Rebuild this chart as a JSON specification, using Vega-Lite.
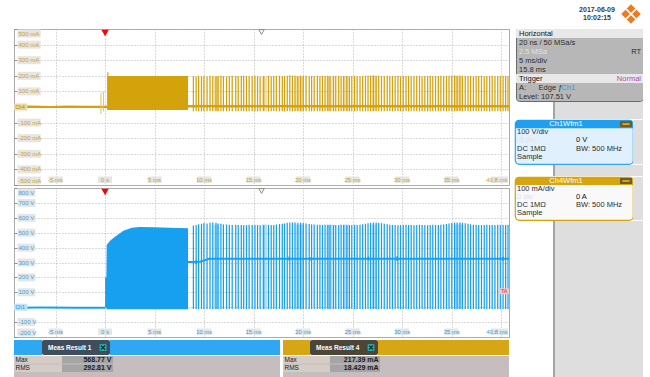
{
"$schema": "https://vega.github.io/schema/vega-lite/v6.json",
"background": "#ffffff",
"padding": {"left": 13, "top": 0, "right": 0, "bottom": 0},
"config": {
  "font": "Liberation Sans",
  "view": {"stroke": null},
  "concat": {"spacing": 0},
  "axis": {"title": null, "labels": false, "domain": false, "ticks": false, "grid": true, "gridDash": [1, 2], "gridColor": "#b5b5b5", "gridWidth": 1, "tickCount": 10},
  "axisY": {"ticks": true, "tickSize": -3, "tickColor": "#8c8c8c"}
},
"datasets": {
  "haze": [{"t0":11.0,"t1":11.5},{"t0":15.85,"t1":16.35},{"t0":19.2,"t1":20.05},{"t0":22.35,"t1":23.0},{"t0":24.0,"t1":24.6},{"t0":26.95,"t1":27.45},{"t0":35.25,"t1":36.15}],
  "bursts": [
    {"t":8.92,"i":198,"v":548},{"t":9.2,"i":196,"v":552},{"t":9.45,"i":200,"v":556},{"t":9.74,"i":197,"v":560},{"t":9.98,"i":199,"v":565},{"t":10.3,"i":196,"v":562},{"t":10.6,"i":200,"v":566},{"t":10.88,"i":198,"v":568},{"t":11.2,"i":197,"v":566},{"t":11.41,"i":199,"v":562},{"t":11.7,"i":201,"v":560},{"t":11.95,"i":198,"v":556},{"t":12.27,"i":196,"v":555},{"t":12.55,"i":199,"v":553},{"t":12.84,"i":200,"v":552},{"t":13.2,"i":198,"v":553},{"t":13.45,"i":197,"v":551},{"t":13.76,"i":199,"v":552},{"t":14.0,"i":200,"v":550},{"t":14.28,"i":198,"v":551},{"t":14.55,"i":197,"v":553},{"t":14.86,"i":199,"v":552},
    {"t":15.14,"i":201,"v":551},{"t":15.4,"i":198,"v":552},{"t":15.66,"i":196,"v":550},{"t":16.02,"i":199,"v":552},{"t":16.5,"i":200,"v":553},{"t":16.78,"i":197,"v":551},{"t":17.04,"i":199,"v":552},{"t":17.3,"i":198,"v":555},{"t":17.62,"i":200,"v":558},{"t":17.9,"i":197,"v":560},{"t":18.12,"i":199,"v":562},{"t":18.4,"i":201,"v":566},{"t":18.66,"i":203,"v":569},{"t":18.92,"i":200,"v":568},{"t":19.18,"i":202,"v":569},{"t":19.47,"i":199,"v":567},{"t":19.75,"i":201,"v":568},{"t":20.02,"i":198,"v":565},{"t":20.3,"i":200,"v":562},
    {"t":20.62,"i":197,"v":558},{"t":20.86,"i":199,"v":556},{"t":21.12,"i":198,"v":555},{"t":21.44,"i":200,"v":554},{"t":21.7,"i":197,"v":553},{"t":21.95,"i":199,"v":552},{"t":22.22,"i":198,"v":553},{"t":22.5,"i":200,"v":552},{"t":22.72,"i":197,"v":551},{"t":23.08,"i":199,"v":552},{"t":23.3,"i":198,"v":551},{"t":23.6,"i":200,"v":552},{"t":23.84,"i":197,"v":553},{"t":24.1,"i":199,"v":552},{"t":24.42,"i":198,"v":550},{"t":24.68,"i":196,"v":551},{"t":24.92,"i":199,"v":552},
    {"t":25.2,"i":200,"v":553},{"t":25.46,"i":198,"v":552},{"t":25.75,"i":197,"v":554},{"t":26.02,"i":199,"v":556},{"t":26.3,"i":200,"v":560},{"t":26.56,"i":202,"v":564},{"t":26.82,"i":201,"v":566},{"t":27.1,"i":203,"v":569},{"t":27.38,"i":200,"v":568},{"t":27.64,"i":202,"v":567},{"t":27.92,"i":199,"v":564},{"t":28.2,"i":198,"v":560},{"t":28.5,"i":200,"v":556},{"t":28.76,"i":197,"v":554},{"t":29.02,"i":199,"v":552},{"t":29.3,"i":198,"v":551},{"t":29.58,"i":200,"v":550},{"t":29.84,"i":197,"v":551},
    {"t":30.12,"i":199,"v":552},{"t":30.4,"i":198,"v":553},{"t":30.66,"i":200,"v":552},{"t":30.92,"i":197,"v":551},{"t":31.2,"i":199,"v":550},{"t":31.48,"i":198,"v":552},{"t":31.76,"i":200,"v":553},{"t":32.02,"i":196,"v":552},{"t":32.3,"i":199,"v":551},{"t":32.58,"i":198,"v":550},{"t":32.84,"i":200,"v":552},{"t":33.1,"i":197,"v":553},{"t":33.38,"i":199,"v":552},{"t":33.66,"i":198,"v":551},{"t":33.92,"i":200,"v":553},{"t":34.2,"i":197,"v":555},{"t":34.48,"i":199,"v":558},{"t":34.74,"i":201,"v":562},
    {"t":35.02,"i":200,"v":565},{"t":35.3,"i":203,"v":568},{"t":35.56,"i":201,"v":569},{"t":35.84,"i":202,"v":568},{"t":36.1,"i":200,"v":567},{"t":36.38,"i":199,"v":564},{"t":36.66,"i":198,"v":560},{"t":36.92,"i":200,"v":556},{"t":37.2,"i":197,"v":554},{"t":37.48,"i":199,"v":553},{"t":37.74,"i":198,"v":552},{"t":38.02,"i":200,"v":551},{"t":38.3,"i":197,"v":552},{"t":38.56,"i":199,"v":553},{"t":38.84,"i":198,"v":552},{"t":39.1,"i":200,"v":551},{"t":39.38,"i":197,"v":552},{"t":39.66,"i":199,"v":553},{"t":39.92,"i":198,"v":552},{"t":40.2,"i":200,"v":551},{"t":40.46,"i":197,"v":552},{"t":40.7,"i":199,"v":553}
  ],
  "iband": [{"t0":0.22,"t1":8.38,"lo":-20,"hi":198},{"t0":0.22,"t1":0.34,"lo":-20,"hi":222}],
  "ispk": [{"t":-0.42,"lo":-45,"hi":92},{"t":-0.17,"lo":-28,"hi":98}],
  "ibase": [{"seg":"a","t":-9.2,"i":1},{"seg":"a","t":-7.4,"i":2},{"seg":"a","t":-5.6,"i":0},{"seg":"a","t":-3.8,"i":2},{"seg":"a","t":-2.0,"i":1},{"seg":"a","t":0.22,"i":1},{"seg":"b","t":8.38,"i":5},{"seg":"b","t":40.8,"i":5}],
  "vband": [{"t":0.0,"top":200,"bot":-3},{"t":0.13,"top":200,"bot":-3},{"t":0.16,"top":417,"bot":-13},{"t":0.5,"top":446,"bot":-13},{"t":1.0,"top":473,"bot":-13},{"t":1.85,"top":513,"bot":-13},{"t":2.7,"top":534,"bot":-13},{"t":3.5,"top":538,"bot":-13},{"t":5.0,"top":537,"bot":-13},{"t":6.5,"top":534,"bot":-13},{"t":8.38,"top":530,"bot":-13}],
  "vbase": [{"seg":"a","t":-9.2,"v":-3},{"seg":"a","t":-6.4,"v":-2},{"seg":"a","t":-3.1,"v":-4},{"seg":"a","t":0.0,"v":-3},{"seg":"b","t":8.38,"v":304},{"seg":"b","t":9.6,"v":305},{"seg":"b","t":10.1,"v":316},{"seg":"b","t":10.5,"v":325},{"seg":"b","t":40.8,"v":325}],
  "blips": [{"t":9.2,"lo":290,"hi":318},{"t":18.6,"lo":312,"hi":340},{"t":20.7,"lo":314,"hi":336},{"t":26.6,"lo":312,"hi":340},{"t":29.5,"lo":310,"hi":342},{"t":40.2,"lo":312,"hi":338}],
  "ilab": [{"v":500,"lab":"500 mA"},{"v":400,"lab":"400 mA"},{"v":300,"lab":"300 mA"},{"v":200,"lab":"200 mA"},{"v":100,"lab":"100 mA"},{"v":-100,"lab":"-100 mA"},{"v":-200,"lab":"-200 mA"},{"v":-300,"lab":"-300 mA"},{"v":-400,"lab":"-400 mA"},{"v":-500,"lab":"-500 mA"}],
  "vlab": [{"v":800,"lab":"800 V"},{"v":700,"lab":"700 V"},{"v":600,"lab":"600 V"},{"v":500,"lab":"500 V"},{"v":400,"lab":"400 V"},{"v":300,"lab":"300 V"},{"v":200,"lab":"200 V"},{"v":100,"lab":"100 V"},{"v":-100,"lab":"-100 V"},{"v":-200,"lab":"-200 V"}],
  "tlab": [{"t":-5,"lab":"-5 ms"},{"t":0,"lab":"0 s"},{"t":5,"lab":"5 ms"},{"t":10,"lab":"10 ms"},{"t":15,"lab":"15 ms"},{"t":20,"lab":"20 ms"},{"t":25,"lab":"25 ms"},{"t":30,"lab":"30 ms"},{"t":35,"lab":"35 ms"},{"t":40.8,"lab":"40.8 ms"}],
  "marks": [{"t":0,"kind":"trigger"},{"t":15.8,"kind":"position"}],
  "tags": [{"lab":"Ch4","v":0},{"lab":"Ch1","v":0},{"lab":"T","v":107.51}],
  "stamp": [{"line":"a","txt":"2017-06-09"},{"line":"b","txt":"10:02:15"}],
  "logo": [{"part":"logo"}],
  "hbox": [
    {"line":0,"col":"l","txt":"Horizontal","tone":"head"},
    {"line":1,"col":"l","txt":"20 ns / 50 MSa/s","tone":"dark"},
    {"line":2,"col":"l","txt":"2.5 MSa","tone":"dim"},
    {"line":2,"col":"r","txt":"RT","tone":"dark"},
    {"line":3,"col":"l","txt":"5 ms/div","tone":"dark"},
    {"line":4,"col":"l","txt":"15.8 ms","tone":"dark"},
    {"line":5,"col":"l","txt":"Trigger","tone":"head"},
    {"line":5,"col":"r","txt":"Normal","tone":"purple"},
    {"line":6,"col":"l","txt":"A:\u00a0\u00a0\u00a0\u00a0\u00a0\u00a0Edge \u0192","tone":"dark"},
    {"line":6,"col":"c","txt":"Ch1","tone":"blue"},
    {"line":7,"col":"l","txt":"Level: 107.51 V","tone":"dark"}
  ],
  "ch1": [
    {"line":0,"col":"m","txt":"Ch1Wfm1","tone":"white"},
    {"line":1,"col":"l","txt":"100 V/div","tone":"dark"},
    {"line":2,"col":"l","txt":"-3 div","tone":"dim"},
    {"line":2,"col":"m","txt":"0 V","tone":"mid"},
    {"line":3,"col":"l","txt":"DC 1MΩ","tone":"dark"},
    {"line":3,"col":"m","txt":"BW: 500 MHz","tone":"dark"},
    {"line":4,"col":"l","txt":"Sample","tone":"dark"}
  ],
  "ch4": [
    {"line":0,"col":"m","txt":"Ch4Wfm1","tone":"white"},
    {"line":1,"col":"l","txt":"100 mA/div","tone":"dark"},
    {"line":2,"col":"l","txt":"0 div","tone":"dim"},
    {"line":2,"col":"m","txt":"0 A","tone":"mid"},
    {"line":3,"col":"l","txt":"DC 1MΩ","tone":"dark"},
    {"line":3,"col":"m","txt":"BW: 500 MHz","tone":"dark"},
    {"line":4,"col":"l","txt":"Sample","tone":"dark"}
  ],
  "icon": [{"line":0,"col":"r"}],
  "tab1": [{"part":"txt","txt":"Meas Result 1"},{"part":"icon","txt":""}],
  "tab4": [{"part":"txt","txt":"Meas Result 4"},{"part":"icon","txt":""}],
  "meas1": [{"k":"Max","val":"568.77 V"},{"k":"RMS","val":"292.81 V"}],
  "meas4": [{"k":"Max","val":"217.39 mA"},{"k":"RMS","val":"18.429 mA"}]
},
"hconcat": [
 {"vconcat": [
  {"width": 495, "height": 26, "data": {"values": [{}]}, "mark": {"type": "point", "opacity": 0}},
  {"width": 495, "height": 156, "view": {"fill": "#ffffff", "stroke": "#a9a9a9"},
   "layer": [
    {"data": {"name": "haze"}, "mark": {"type": "rect", "color": "#d4a20a", "opacity": 0.33, "clip": true},
     "encoding": {"x": {"field": "t0", "type": "quantitative", "scale": {"domain": [-9.2, 40.8], "nice": false, "zero": false}}, "x2": {"field": "t1"},
       "y": {"datum": 196, "type": "quantitative", "scale": {"domain": [-500, 500], "nice": false, "zero": false}}, "y2": {"datum": -26}}},
    {"data": {"name": "ibase"}, "mark": {"type": "line", "color": "#d4a20a", "strokeWidth": 2.2, "clip": true},
     "encoding": {"x": {"field": "t", "type": "quantitative"}, "y": {"field": "i", "type": "quantitative"}, "detail": {"field": "seg", "type": "nominal"}}},
    {"data": {"name": "ispk"}, "mark": {"type": "rule", "color": "#e2c257", "strokeWidth": 1},
     "encoding": {"x": {"field": "t", "type": "quantitative"}, "y": {"field": "lo", "type": "quantitative"}, "y2": {"field": "hi"}}},
    {"data": {"name": "iband"}, "mark": {"type": "rect", "color": "#d4a20a"},
     "encoding": {"x": {"field": "t0", "type": "quantitative"}, "x2": {"field": "t1"}, "y": {"field": "lo", "type": "quantitative"}, "y2": {"field": "hi"}}},
    {"data": {"name": "bursts"}, "mark": {"type": "rule", "color": "#d4a20a", "strokeWidth": 1.25},
     "encoding": {"x": {"field": "t", "type": "quantitative"}, "y": {"field": "i", "type": "quantitative"}, "y2": {"datum": -28}}},
    {"data": {"name": "ilab"}, "transform": [{"filter": "datum.v < 500 && datum.v > -500"}], "mark": {"type": "rect", "color": "#e5e5e5", "yOffset": -4, "y2Offset": 4},
     "encoding": {"x": {"datum": -8.85, "type": "quantitative"}, "x2": {"datum": -6.5}, "y": {"field": "v", "type": "quantitative"}, "y2": {"field": "v"}}},
    {"data": {"name": "ilab"}, "transform": [{"filter": "datum.v < 500 && datum.v > -500"}], "mark": {"type": "text", "align": "left", "baseline": "middle", "fontSize": 6, "color": "#c9a227", "dx": 1},
     "encoding": {"x": {"datum": -8.85, "type": "quantitative"}, "y": {"field": "v", "type": "quantitative"}, "text": {"field": "lab"}}},
    {"data": {"name": "ilab"}, "transform": [{"filter": "datum.v == 500"}], "mark": {"type": "rect", "color": "#e5e5e5", "yOffset": 0.5, "y2Offset": 8.5},
     "encoding": {"x": {"datum": -8.85, "type": "quantitative"}, "x2": {"datum": -6.5}, "y": {"field": "v", "type": "quantitative"}, "y2": {"field": "v"}}},
    {"data": {"name": "ilab"}, "transform": [{"filter": "datum.v == 500"}], "mark": {"type": "text", "align": "left", "baseline": "middle", "fontSize": 6, "color": "#c9a227", "dx": 1, "yOffset": 4.5},
     "encoding": {"x": {"datum": -8.85, "type": "quantitative"}, "y": {"field": "v", "type": "quantitative"}, "text": {"field": "lab"}}},
    {"data": {"name": "ilab"}, "transform": [{"filter": "datum.v == -500"}], "mark": {"type": "rect", "color": "#e5e5e5", "yOffset": -8.5, "y2Offset": -0.5},
     "encoding": {"x": {"datum": -8.85, "type": "quantitative"}, "x2": {"datum": -6.5}, "y": {"field": "v", "type": "quantitative"}, "y2": {"field": "v"}}},
    {"data": {"name": "ilab"}, "transform": [{"filter": "datum.v == -500"}], "mark": {"type": "text", "align": "left", "baseline": "middle", "fontSize": 6, "color": "#c9a227", "dx": 1, "yOffset": -4.5},
     "encoding": {"x": {"datum": -8.85, "type": "quantitative"}, "y": {"field": "v", "type": "quantitative"}, "text": {"field": "lab"}}},
    {"data": {"name": "tlab"}, "transform": [{"filter": "datum.t < 40"}], "mark": {"type": "rect", "color": "#e5e5e5", "xOffset": -7, "x2Offset": 7, "yOffset": -8.5, "y2Offset": -2},
     "encoding": {"x": {"field": "t", "type": "quantitative"}, "x2": {"field": "t"}, "y": {"datum": -500, "type": "quantitative"}, "y2": {"datum": -500}}},
    {"data": {"name": "tlab"}, "transform": [{"filter": "datum.t < 40"}], "mark": {"type": "text", "align": "center", "baseline": "middle", "fontSize": 6, "color": "#c9a227", "yOffset": -5.2},
     "encoding": {"x": {"field": "t", "type": "quantitative"}, "y": {"datum": -500, "type": "quantitative"}, "text": {"field": "lab"}}},
    {"data": {"name": "tlab"}, "transform": [{"filter": "datum.t > 40"}], "mark": {"type": "rect", "color": "#e5e5e5", "xOffset": -18, "x2Offset": -1, "yOffset": -8.5, "y2Offset": -2},
     "encoding": {"x": {"field": "t", "type": "quantitative"}, "x2": {"field": "t"}, "y": {"datum": -500, "type": "quantitative"}, "y2": {"datum": -500}}},
    {"data": {"name": "tlab"}, "transform": [{"filter": "datum.t > 40"}], "mark": {"type": "text", "align": "right", "baseline": "middle", "fontSize": 6, "color": "#c9a227", "yOffset": -5.2, "dx": -1.5},
     "encoding": {"x": {"field": "t", "type": "quantitative"}, "y": {"datum": -500, "type": "quantitative"}, "text": {"field": "lab"}}},
    {"data": {"name": "tags"}, "transform": [{"filter": "datum.lab == 'Ch4'"}], "mark": {"type": "rect", "color": "#ead9a0", "yOffset": -3.5, "y2Offset": 3.5},
     "encoding": {"x": {"datum": -9.2, "type": "quantitative"}, "x2": {"datum": -7.85}, "y": {"field": "v", "type": "quantitative"}, "y2": {"field": "v"}}},
    {"data": {"name": "tags"}, "transform": [{"filter": "datum.lab == 'Ch4'"}], "mark": {"type": "text", "align": "left", "baseline": "middle", "fontSize": 5, "color": "#a88410", "dx": 1.5},
     "encoding": {"x": {"datum": -9.2, "type": "quantitative"}, "y": {"field": "v", "type": "quantitative"}, "text": {"field": "lab"}}},
    {"data": {"name": "marks"}, "transform": [{"filter": "datum.kind == 'trigger'"}], "mark": {"type": "point", "shape": "triangle-down", "filled": true, "color": "#ff0000", "size": 55, "opacity": 1, "yOffset": 4},
     "encoding": {"x": {"field": "t", "type": "quantitative"}, "y": {"datum": 500, "type": "quantitative"}}},
    {"data": {"name": "marks"}, "transform": [{"filter": "datum.kind == 'position'"}], "mark": {"type": "point", "shape": "triangle-down", "filled": true, "fill": "#ffffff", "stroke": "#8a8a8a", "strokeWidth": 1, "size": 30, "opacity": 1, "yOffset": 3},
     "encoding": {"x": {"field": "t", "type": "quantitative"}, "y": {"datum": 500, "type": "quantitative"}}}
   ]},
  {"width": 495, "height": 149, "view": {"fill": "#ffffff", "stroke": "#a9a9a9"},
   "layer": [
    {"data": {"name": "haze"}, "mark": {"type": "rect", "color": "#18a0f0", "opacity": 0.33, "clip": true},
     "encoding": {"x": {"field": "t0", "type": "quantitative", "scale": {"domain": [-9.2, 40.8], "nice": false, "zero": false}}, "x2": {"field": "t1"},
       "y": {"datum": 555, "type": "quantitative", "scale": {"domain": [-200, 800], "nice": false, "zero": false}}, "y2": {"datum": -12}}},
    {"data": {"name": "vbase"}, "mark": {"type": "line", "color": "#18a0f0", "strokeWidth": 2, "clip": true},
     "encoding": {"x": {"field": "t", "type": "quantitative"}, "y": {"field": "v", "type": "quantitative"}, "detail": {"field": "seg", "type": "nominal"}}},
    {"data": {"name": "vband"}, "mark": {"type": "area", "color": "#18a0f0", "opacity": 1},
     "encoding": {"x": {"field": "t", "type": "quantitative"}, "y": {"field": "top", "type": "quantitative"}, "y2": {"field": "bot"}}},
    {"data": {"name": "bursts"}, "mark": {"type": "rule", "color": "#18a0f0", "strokeWidth": 1.25},
     "encoding": {"x": {"field": "t", "type": "quantitative"}, "y": {"field": "v", "type": "quantitative"}, "y2": {"datum": -12}}},
    {"data": {"name": "blips"}, "mark": {"type": "rule", "color": "#18a0f0", "strokeWidth": 1.6},
     "encoding": {"x": {"field": "t", "type": "quantitative"}, "y": {"field": "lo", "type": "quantitative"}, "y2": {"field": "hi"}}},
    {"data": {"name": "vlab"}, "transform": [{"filter": "datum.v < 800 && datum.v > -200"}], "mark": {"type": "rect", "color": "#e5e5e5", "yOffset": -4, "y2Offset": 4},
     "encoding": {"x": {"datum": -8.85, "type": "quantitative"}, "x2": {"datum": -7.05}, "y": {"field": "v", "type": "quantitative"}, "y2": {"field": "v"}}},
    {"data": {"name": "vlab"}, "transform": [{"filter": "datum.v < 800 && datum.v > -200"}], "mark": {"type": "text", "align": "left", "baseline": "middle", "fontSize": 6, "color": "#3a9de0", "dx": 1},
     "encoding": {"x": {"datum": -8.85, "type": "quantitative"}, "y": {"field": "v", "type": "quantitative"}, "text": {"field": "lab"}}},
    {"data": {"name": "vlab"}, "transform": [{"filter": "datum.v == 800"}], "mark": {"type": "rect", "color": "#e5e5e5", "yOffset": 0.5, "y2Offset": 8.5},
     "encoding": {"x": {"datum": -8.85, "type": "quantitative"}, "x2": {"datum": -7.05}, "y": {"field": "v", "type": "quantitative"}, "y2": {"field": "v"}}},
    {"data": {"name": "vlab"}, "transform": [{"filter": "datum.v == 800"}], "mark": {"type": "text", "align": "left", "baseline": "middle", "fontSize": 6, "color": "#3a9de0", "dx": 1, "yOffset": 4.5},
     "encoding": {"x": {"datum": -8.85, "type": "quantitative"}, "y": {"field": "v", "type": "quantitative"}, "text": {"field": "lab"}}},
    {"data": {"name": "vlab"}, "transform": [{"filter": "datum.v == -200"}], "mark": {"type": "rect", "color": "#e5e5e5", "yOffset": -8.5, "y2Offset": -0.5},
     "encoding": {"x": {"datum": -8.85, "type": "quantitative"}, "x2": {"datum": -7.05}, "y": {"field": "v", "type": "quantitative"}, "y2": {"field": "v"}}},
    {"data": {"name": "vlab"}, "transform": [{"filter": "datum.v == -200"}], "mark": {"type": "text", "align": "left", "baseline": "middle", "fontSize": 6, "color": "#3a9de0", "dx": 1, "yOffset": -4.5},
     "encoding": {"x": {"datum": -8.85, "type": "quantitative"}, "y": {"field": "v", "type": "quantitative"}, "text": {"field": "lab"}}},
    {"data": {"name": "tlab"}, "transform": [{"filter": "datum.t < 40"}], "mark": {"type": "rect", "color": "#e5e5e5", "xOffset": -7, "x2Offset": 7, "yOffset": -8.5, "y2Offset": -2},
     "encoding": {"x": {"field": "t", "type": "quantitative"}, "x2": {"field": "t"}, "y": {"datum": -200, "type": "quantitative"}, "y2": {"datum": -200}}},
    {"data": {"name": "tlab"}, "transform": [{"filter": "datum.t < 40"}], "mark": {"type": "text", "align": "center", "baseline": "middle", "fontSize": 6, "color": "#3a9de0", "yOffset": -5.2},
     "encoding": {"x": {"field": "t", "type": "quantitative"}, "y": {"datum": -200, "type": "quantitative"}, "text": {"field": "lab"}}},
    {"data": {"name": "tlab"}, "transform": [{"filter": "datum.t > 40"}], "mark": {"type": "rect", "color": "#e5e5e5", "xOffset": -18, "x2Offset": -1, "yOffset": -8.5, "y2Offset": -2},
     "encoding": {"x": {"field": "t", "type": "quantitative"}, "x2": {"field": "t"}, "y": {"datum": -200, "type": "quantitative"}, "y2": {"datum": -200}}},
    {"data": {"name": "tlab"}, "transform": [{"filter": "datum.t > 40"}], "mark": {"type": "text", "align": "right", "baseline": "middle", "fontSize": 6, "color": "#3a9de0", "yOffset": -5.2, "dx": -1.5},
     "encoding": {"x": {"field": "t", "type": "quantitative"}, "y": {"datum": -200, "type": "quantitative"}, "text": {"field": "lab"}}},
    {"data": {"name": "tags"}, "transform": [{"filter": "datum.lab == 'Ch1'"}], "mark": {"type": "rect", "color": "#bfe2fa", "yOffset": -3.5, "y2Offset": 3.5},
     "encoding": {"x": {"datum": -9.2, "type": "quantitative"}, "x2": {"datum": -7.85}, "y": {"field": "v", "type": "quantitative"}, "y2": {"field": "v"}}},
    {"data": {"name": "tags"}, "transform": [{"filter": "datum.lab == 'Ch1'"}], "mark": {"type": "text", "align": "left", "baseline": "middle", "fontSize": 5, "color": "#1a88d0", "dx": 1.5},
     "encoding": {"x": {"datum": -9.2, "type": "quantitative"}, "y": {"field": "v", "type": "quantitative"}, "text": {"field": "lab"}}},
    {"data": {"name": "tags"}, "transform": [{"filter": "datum.lab == 'T'"}], "mark": {"type": "rect", "color": "#f6c9c9", "yOffset": -3, "y2Offset": 3},
     "encoding": {"x": {"datum": 39.8, "type": "quantitative"}, "x2": {"datum": 40.8}, "y": {"field": "v", "type": "quantitative"}, "y2": {"field": "v"}}},
    {"data": {"name": "tags"}, "transform": [{"filter": "datum.lab == 'T'"}], "mark": {"type": "text", "align": "right", "baseline": "middle", "fontSize": 5.5, "color": "#e03030", "dx": -1.5},
     "encoding": {"x": {"datum": 40.8, "type": "quantitative"}, "y": {"field": "v", "type": "quantitative"}, "text": {"value": "TA"}}},
    {"data": {"name": "marks"}, "transform": [{"filter": "datum.kind == 'trigger'"}], "mark": {"type": "point", "shape": "triangle-down", "filled": true, "color": "#ff0000", "size": 55, "opacity": 1, "yOffset": 4},
     "encoding": {"x": {"field": "t", "type": "quantitative"}, "y": {"datum": 800, "type": "quantitative"}}},
    {"data": {"name": "marks"}, "transform": [{"filter": "datum.kind == 'position'"}], "mark": {"type": "point", "shape": "triangle-down", "filled": true, "fill": "#ffffff", "stroke": "#8a8a8a", "strokeWidth": 1, "size": 30, "opacity": 1, "yOffset": 3},
     "encoding": {"x": {"field": "t", "type": "quantitative"}, "y": {"datum": 800, "type": "quantitative"}}}
   ]},
  {"hconcat": [
    {"vconcat": [
      {"hconcat": [
        {"width": 28, "height": 15, "data": {"values": [{}]}, "mark": {"type": "point", "opacity": 0}, "view": {"fill": "#2ea8f2"}},
        {"width": 68, "height": 15, "view": {"fill": "#3e4e5e", "cornerRadius": 2},
         "layer": [
          {"data": {"name": "tab1"}, "transform": [{"filter": "datum.part == 'txt'"}], "mark": {"type": "text", "align": "left", "baseline": "middle", "fontSize": 6.5, "fontWeight": "bold", "color": "#ffffff", "dx": 6},
           "encoding": {"x": {"field": "part", "type": "nominal", "scale": {"type": "point", "domain": ["txt", "icon"], "padding": 0}, "axis": null}, "text": {"field": "txt"}}},
          {"data": {"name": "tab1"}, "transform": [{"filter": "datum.part == 'icon'"}], "mark": {"type": "point", "shape": "square", "filled": true, "color": "#22b4b4", "size": 45, "opacity": 1, "xOffset": -7},
           "encoding": {"x": {"field": "part", "type": "nominal", "axis": null}}},
          {"data": {"name": "tab1"}, "transform": [{"filter": "datum.part == 'icon'"}], "mark": {"type": "point", "shape": "M-0.6,-0.6L0.6,0.6M0.6,-0.6L-0.6,0.6", "filled": false, "stroke": "#0b3030", "strokeWidth": 1.3, "size": 45, "opacity": 1, "xOffset": -7},
           "encoding": {"x": {"field": "part", "type": "nominal", "axis": null}}}
         ]},
        {"width": 170, "height": 15, "data": {"values": [{}]}, "mark": {"type": "point", "opacity": 0}, "view": {"fill": "#2ea8f2"}}
      ], "spacing": 0, "bounds": "flush"},
      {"hconcat": [
        {"width": 48, "height": 22, "view": {"fill": "#c6bebe"},
         "layer": [
          {"data": {"name": "meas1"}, "mark": {"type": "rect", "color": "#d4ccc5"},
           "encoding": {"y": {"field": "k", "type": "nominal", "scale": {"type": "band", "domain": ["Max", "RMS"], "paddingInner": 0.12, "paddingOuter": 0.35, "align": 0}, "axis": null}}},
          {"data": {"name": "meas1"}, "mark": {"type": "text", "align": "left", "baseline": "middle", "fontSize": 6.5, "color": "#202020", "dx": 1.5},
           "encoding": {"x": {"value": 0}, "y": {"field": "k", "type": "nominal", "axis": null}, "text": {"field": "k"}}}
         ]},
        {"width": 51, "height": 22, "view": {"fill": "#c6bebe"},
         "layer": [
          {"data": {"name": "meas1"}, "mark": {"type": "rect", "color": "#a5a5a5"},
           "encoding": {"y": {"field": "k", "type": "nominal", "scale": {"type": "band", "domain": ["Max", "RMS"], "paddingInner": 0.12, "paddingOuter": 0.35, "align": 0}, "axis": null}}},
          {"data": {"name": "meas1"}, "mark": {"type": "text", "align": "right", "baseline": "middle", "fontSize": 7, "fontWeight": "bold", "color": "#1a1a1a", "dx": -1.5},
           "encoding": {"x": {"value": "width"}, "y": {"field": "k", "type": "nominal", "axis": null}, "text": {"field": "val"}}}
         ]},
        {"width": 167, "height": 22, "data": {"values": [{}]}, "mark": {"type": "point", "opacity": 0}, "view": {"fill": "#c6bebe"}}
      ], "spacing": 0, "bounds": "flush"}
    ], "spacing": 0, "bounds": "full"},
    {"vconcat": [
      {"hconcat": [
        {"width": 27, "height": 15, "data": {"values": [{}]}, "mark": {"type": "point", "opacity": 0}, "view": {"fill": "#d6a614"}},
        {"width": 68, "height": 15, "view": {"fill": "#4d4637", "cornerRadius": 2},
         "layer": [
          {"data": {"name": "tab4"}, "transform": [{"filter": "datum.part == 'txt'"}], "mark": {"type": "text", "align": "left", "baseline": "middle", "fontSize": 6.5, "fontWeight": "bold", "color": "#ffffff", "dx": 6},
           "encoding": {"x": {"field": "part", "type": "nominal", "scale": {"type": "point", "domain": ["txt", "icon"], "padding": 0}, "axis": null}, "text": {"field": "txt"}}},
          {"data": {"name": "tab4"}, "transform": [{"filter": "datum.part == 'icon'"}], "mark": {"type": "point", "shape": "square", "filled": true, "color": "#22b4b4", "size": 45, "opacity": 1, "xOffset": -7},
           "encoding": {"x": {"field": "part", "type": "nominal", "axis": null}}},
          {"data": {"name": "tab4"}, "transform": [{"filter": "datum.part == 'icon'"}], "mark": {"type": "point", "shape": "M-0.6,-0.6L0.6,0.6M0.6,-0.6L-0.6,0.6", "filled": false, "stroke": "#0b3030", "strokeWidth": 1.3, "size": 45, "opacity": 1, "xOffset": -7},
           "encoding": {"x": {"field": "part", "type": "nominal", "axis": null}}}
         ]},
        {"width": 131, "height": 15, "data": {"values": [{}]}, "mark": {"type": "point", "opacity": 0}, "view": {"fill": "#d6a614"}}
      ], "spacing": 0, "bounds": "flush"},
      {"hconcat": [
        {"width": 47, "height": 22, "view": {"fill": "#c6bebe"},
         "layer": [
          {"data": {"name": "meas4"}, "mark": {"type": "rect", "color": "#d4ccc5"},
           "encoding": {"y": {"field": "k", "type": "nominal", "scale": {"type": "band", "domain": ["Max", "RMS"], "paddingInner": 0.12, "paddingOuter": 0.35, "align": 0}, "axis": null}}},
          {"data": {"name": "meas4"}, "mark": {"type": "text", "align": "left", "baseline": "middle", "fontSize": 6.5, "color": "#202020", "dx": 1.5},
           "encoding": {"x": {"value": 0}, "y": {"field": "k", "type": "nominal", "axis": null}, "text": {"field": "k"}}}
         ]},
        {"width": 50, "height": 22, "view": {"fill": "#c6bebe"},
         "layer": [
          {"data": {"name": "meas4"}, "mark": {"type": "rect", "color": "#a5a5a5"},
           "encoding": {"y": {"field": "k", "type": "nominal", "scale": {"type": "band", "domain": ["Max", "RMS"], "paddingInner": 0.12, "paddingOuter": 0.35, "align": 0}, "axis": null}}},
          {"data": {"name": "meas4"}, "mark": {"type": "text", "align": "right", "baseline": "middle", "fontSize": 7, "fontWeight": "bold", "color": "#1a1a1a", "dx": -1.5},
           "encoding": {"x": {"value": "width"}, "y": {"field": "k", "type": "nominal", "axis": null}, "text": {"field": "val"}}}
         ]},
        {"width": 129, "height": 22, "data": {"values": [{}]}, "mark": {"type": "point", "opacity": 0}, "view": {"fill": "#c6bebe"}}
      ], "spacing": 0, "bounds": "flush"}
    ], "spacing": 0, "bounds": "full"}
  ], "spacing": 3, "bounds": "full"}
 ], "spacing": 3, "bounds": "flush"},
 {"vconcat": [
  {"hconcat": [
    {"width": 62, "height": 28, "data": {"values": [{}]}, "mark": {"type": "point", "opacity": 0}, "view": {"fill": "#ffffff"}},
    {"width": 42, "height": 28, "view": {"fill": "#ffffff"}, "data": {"name": "stamp"},
     "mark": {"type": "text", "fontSize": 7, "fontWeight": "bold", "color": "#3a3a3a", "baseline": "middle", "align": "center"},
     "encoding": {"y": {"field": "line", "type": "nominal", "scale": {"type": "band", "domain": ["a", "b"], "paddingInner": 0, "paddingOuter": 0.867}, "axis": null},
       "text": {"field": "txt"}}},
    {"width": 26, "height": 28, "view": {"fill": "#ffffff"},
     "layer": [
      {"data": {"name": "logo"}, "mark": {"type": "point", "shape": "diamond", "filled": true, "color": "#f07a1e", "size": 380, "opacity": 1}},
      {"data": {"name": "logo"}, "mark": {"type": "point", "shape": "M-0.5,-0.5L0.5,0.5M0.5,-0.5L-0.5,0.5", "filled": false, "stroke": "#ffffff", "strokeWidth": 1.6, "size": 380, "opacity": 1}}
     ]},
    {"width": 7, "height": 28, "data": {"values": [{}]}, "mark": {"type": "point", "opacity": 0}, "view": {"fill": "#ffffff"}}
  ], "spacing": 0, "bounds": "flush"},
  {"hconcat": [
    {"width": 2, "height": 72, "data": {"values": [{}]}, "mark": {"type": "point", "opacity": 0}, "view": {"fill": "#ffffff"}},
    {"width": 127, "height": 72, "view": {"fill": "#b7b7b7", "stroke": "#6a6a6a", "strokeWidth": 1, "cornerRadius": 3},
     "layer": [
      {"data": {"name": "hbox"}, "transform": [{"filter": "datum.tone == 'head'"}], "mark": {"type": "rect", "color": "#e8e8e8"},
       "encoding": {"y": {"field": "line", "type": "ordinal", "scale": {"type": "band", "domain": [0, 1, 2, 3, 4, 5, 6, 7], "paddingInner": 0, "paddingOuter": 0}, "axis": null}}},
      {"data": {"name": "hbox"}, "transform": [{"filter": "datum.col != 'r'"}], "mark": {"type": "text", "align": "left", "baseline": "middle", "fontSize": 7.5, "dx": 3},
       "encoding": {"x": {"field": "col", "type": "nominal", "scale": {"type": "point", "domain": ["l", "c", "m", "r"], "padding": 0}, "axis": null},
         "y": {"field": "line", "type": "ordinal", "axis": null}, "text": {"field": "txt"},
         "color": {"field": "tone", "type": "nominal", "scale": {"domain": ["head", "dark", "dim", "blue", "purple"], "range": ["#101010", "#2c2c2c", "#e2e2e2", "#2a9de6", "#b04ab0"]}, "legend": null}}},
      {"data": {"name": "hbox"}, "transform": [{"filter": "datum.col == 'r'"}], "mark": {"type": "text", "align": "right", "baseline": "middle", "fontSize": 7.5, "dx": -2},
       "encoding": {"x": {"field": "col", "type": "nominal", "axis": null},
         "y": {"field": "line", "type": "ordinal", "axis": null}, "text": {"field": "txt"},
         "color": {"field": "tone", "type": "nominal", "legend": null}}}
     ]},
    {"width": 8, "height": 72, "data": {"values": [{}]}, "mark": {"type": "point", "opacity": 0}, "view": {"fill": "#ffffff"}}
  ], "spacing": 0, "bounds": "flush"},
  {"hconcat": [
    {"width": 39, "height": 17, "data": {"values": [{}]}, "mark": {"type": "point", "opacity": 0}, "view": {"fill": "#ffffff"}},
    {"width": 2, "height": 17, "data": {"values": [{}]}, "mark": {"type": "point", "opacity": 0}, "view": {"fill": "#a4a4a4"}},
    {"width": 88, "height": 17, "data": {"values": [{}]}, "mark": {"type": "point", "opacity": 0}, "view": {"fill": "#dedede"}},
    {"width": 8, "height": 17, "data": {"values": [{}]}, "mark": {"type": "point", "opacity": 0}, "view": {"fill": "#ffffff"}}
  ], "spacing": 0, "bounds": "flush"},
  {"hconcat": [
    {"width": 1, "height": 44, "data": {"values": [{}]}, "mark": {"type": "point", "opacity": 0}, "view": {"fill": "#ffffff"}},
    {"width": 118, "height": 44, "view": {"fill": "#e0f1fd", "stroke": "#33a7ee", "strokeWidth": 1.2, "cornerRadius": 4},
     "layer": [
      {"data": {"name": "ch1"}, "transform": [{"filter": "datum.tone == 'white'"}], "mark": {"type": "rect", "color": "#1f9ff0", "cornerRadiusTopLeft": 4, "cornerRadiusTopRight": 4},
       "encoding": {"y": {"field": "line", "type": "ordinal", "scale": {"type": "band", "domain": [0, 1, 2, 3, 4], "paddingInner": 0, "paddingOuter": 0.2, "align": 0}, "axis": null}}},
      {"data": {"name": "ch1"}, "transform": [{"filter": "datum.tone == 'white'"}], "mark": {"type": "text", "align": "center", "baseline": "middle", "fontSize": 7.5, "color": "#ffffff", "dx": -8},
       "encoding": {"x": {"field": "col", "type": "nominal", "scale": {"type": "point", "domain": ["l", "m", "r"], "padding": 0}, "axis": null}, "y": {"field": "line", "type": "ordinal", "axis": null}, "text": {"field": "txt"}}},
      {"data": {"name": "ch1"}, "transform": [{"filter": "datum.tone != 'white'"}], "mark": {"type": "text", "align": "left", "baseline": "middle", "fontSize": 7.5, "dx": 2},
       "encoding": {"x": {"field": "col", "type": "nominal", "axis": null}, "y": {"field": "line", "type": "ordinal", "axis": null}, "text": {"field": "txt"},
         "color": {"field": "tone", "type": "nominal", "scale": {"domain": ["dark", "mid", "dim"], "range": ["#2e2e2e", "#6a6a6a", "#8c8c8c"]}, "legend": null}}},
      {"data": {"name": "icon"}, "mark": {"type": "point", "shape": "M-1,-0.5L1,-0.5L1,0.5L-1,0.5Z", "filled": true, "color": "#6b5d2a", "size": 144, "opacity": 1, "xOffset": -7},
       "encoding": {"x": {"field": "col", "type": "nominal", "axis": null}, "y": {"field": "line", "type": "ordinal", "axis": null}}},
      {"data": {"name": "icon"}, "mark": {"type": "point", "shape": "M-0.6,-0.14L0.6,-0.14L0.6,0.14L-0.6,0.14Z", "filled": true, "color": "#e3b21e", "size": 144, "opacity": 1, "xOffset": -7},
       "encoding": {"x": {"field": "col", "type": "nominal", "axis": null}, "y": {"field": "line", "type": "ordinal", "axis": null}}}
     ]},
    {"width": 10, "height": 44, "data": {"values": [{}]}, "mark": {"type": "point", "opacity": 0}, "view": {"fill": "#dedede"}},
    {"width": 8, "height": 44, "data": {"values": [{}]}, "mark": {"type": "point", "opacity": 0}, "view": {"fill": "#ffffff"}}
  ], "spacing": 0, "bounds": "flush"},
  {"hconcat": [
    {"width": 39, "height": 11, "data": {"values": [{}]}, "mark": {"type": "point", "opacity": 0}, "view": {"fill": "#ffffff"}},
    {"width": 2, "height": 11, "data": {"values": [{}]}, "mark": {"type": "point", "opacity": 0}, "view": {"fill": "#a4a4a4"}},
    {"width": 88, "height": 11, "data": {"values": [{}]}, "mark": {"type": "point", "opacity": 0}, "view": {"fill": "#dedede"}},
    {"width": 8, "height": 11, "data": {"values": [{}]}, "mark": {"type": "point", "opacity": 0}, "view": {"fill": "#ffffff"}}
  ], "spacing": 0, "bounds": "flush"},
  {"hconcat": [
    {"width": 1, "height": 43, "data": {"values": [{}]}, "mark": {"type": "point", "opacity": 0}, "view": {"fill": "#ffffff"}},
    {"width": 118, "height": 43, "view": {"fill": "#f9f9f9", "stroke": "#d4a20a", "strokeWidth": 1.2, "cornerRadius": 4},
     "layer": [
      {"data": {"name": "ch4"}, "transform": [{"filter": "datum.tone == 'white'"}], "mark": {"type": "rect", "color": "#d6a40e", "cornerRadiusTopLeft": 4, "cornerRadiusTopRight": 4},
       "encoding": {"y": {"field": "line", "type": "ordinal", "scale": {"type": "band", "domain": [0, 1, 2, 3, 4], "paddingInner": 0, "paddingOuter": 0.2, "align": 0}, "axis": null}}},
      {"data": {"name": "ch4"}, "transform": [{"filter": "datum.tone == 'white'"}], "mark": {"type": "text", "align": "center", "baseline": "middle", "fontSize": 7.5, "color": "#ffffff", "dx": -8},
       "encoding": {"x": {"field": "col", "type": "nominal", "scale": {"type": "point", "domain": ["l", "m", "r"], "padding": 0}, "axis": null}, "y": {"field": "line", "type": "ordinal", "axis": null}, "text": {"field": "txt"}}},
      {"data": {"name": "ch4"}, "transform": [{"filter": "datum.tone != 'white'"}], "mark": {"type": "text", "align": "left", "baseline": "middle", "fontSize": 7.5, "dx": 2},
       "encoding": {"x": {"field": "col", "type": "nominal", "axis": null}, "y": {"field": "line", "type": "ordinal", "axis": null}, "text": {"field": "txt"},
         "color": {"field": "tone", "type": "nominal", "scale": {"domain": ["dark", "mid", "dim"], "range": ["#2e2e2e", "#6a6a6a", "#8c8c8c"]}, "legend": null}}},
      {"data": {"name": "icon"}, "mark": {"type": "point", "shape": "M-1,-0.5L1,-0.5L1,0.5L-1,0.5Z", "filled": true, "color": "#6b5d2a", "size": 144, "opacity": 1, "xOffset": -7},
       "encoding": {"x": {"field": "col", "type": "nominal", "axis": null}, "y": {"field": "line", "type": "ordinal", "axis": null}}},
      {"data": {"name": "icon"}, "mark": {"type": "point", "shape": "M-0.6,-0.14L0.6,-0.14L0.6,0.14L-0.6,0.14Z", "filled": true, "color": "#e3b21e", "size": 144, "opacity": 1, "xOffset": -7},
       "encoding": {"x": {"field": "col", "type": "nominal", "axis": null}, "y": {"field": "line", "type": "ordinal", "axis": null}}}
     ]},
    {"width": 10, "height": 43, "data": {"values": [{}]}, "mark": {"type": "point", "opacity": 0}, "view": {"fill": "#dedede"}},
    {"width": 8, "height": 43, "data": {"values": [{}]}, "mark": {"type": "point", "opacity": 0}, "view": {"fill": "#ffffff"}}
  ], "spacing": 0, "bounds": "flush"},
  {"hconcat": [
    {"width": 39, "height": 162, "data": {"values": [{}]}, "mark": {"type": "point", "opacity": 0}, "view": {"fill": "#ffffff"}},
    {"width": 2, "height": 162, "data": {"values": [{}]}, "mark": {"type": "point", "opacity": 0}, "view": {"fill": "#a4a4a4"}},
    {"width": 88, "height": 162, "data": {"values": [{}]}, "mark": {"type": "point", "opacity": 0}, "view": {"fill": "#dedede"}},
    {"width": 8, "height": 162, "data": {"values": [{}]}, "mark": {"type": "point", "opacity": 0}, "view": {"fill": "#ffffff"}}
  ], "spacing": 0, "bounds": "flush"}
 ], "spacing": 0, "bounds": "full"}
],
"spacing": 1,
"bounds": "full"
}
